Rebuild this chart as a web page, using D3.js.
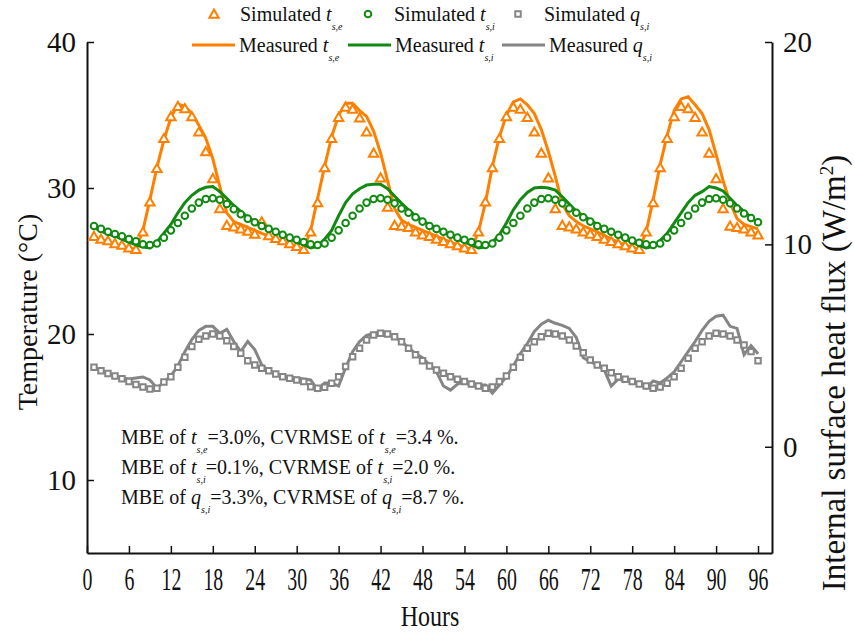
<!DOCTYPE html>
<html><head><meta charset="utf-8">
<script src="https://cdn.jsdelivr.net/npm/d3@7"></script>
<style>body{margin:0;background:#fff}svg{display:block}text{font-family:"Liberation Serif","Times New Roman",serif;fill:#111}</style>
</head><body><svg id="c" width="855" height="635"></svg>
<script>
const hours = d3.range(1, 97);
const xTicks = d3.range(0, 97, 6);
const yLeftTicks = [10, 20, 30, 40];
const yRightTicks = [0, 10, 20];

const simTe = [26.7,26.5,26.4,26.2,26.1,25.9,25.8,27.0,29.05,31.35,33.4,34.9,35.6,35.45,34.9,33.85,32.5,30.65,28.6,27.45,27.35,27.2,27.05,26.85,
27.7,26.75,26.55,26.4,26.2,26.0,25.8,27.0,29.0,31.4,33.4,34.85,35.55,35.4,34.8,33.85,32.4,30.7,28.7,27.45,27.4,27.3,27.0,26.8,
26.7,26.5,26.35,26.2,26.05,25.9,25.8,27.0,29.05,31.4,33.4,34.9,35.55,35.4,34.85,33.85,32.4,30.7,28.6,27.45,27.35,27.2,27.0,26.85,
26.7,26.5,26.35,26.2,26.05,25.9,25.8,27.0,29.0,31.4,33.4,34.9,35.6,35.45,34.85,33.85,32.4,30.65,28.6,27.4,27.3,27.2,27.0,26.8];
const meaTe = [26.6,26.45,26.3,26.15,26.0,25.9,25.8,27.1,29.2,31.4,33.3,34.8,35.75,35.6,35.1,34.3,33.4,32.0,30.1,28.3,27.7,27.5,27.3,27.1,
26.9,26.7,26.5,26.3,26.1,25.95,25.8,27.1,29.3,31.5,33.5,35.0,35.8,35.8,35.3,34.9,33.9,32.4,30.5,28.6,27.8,27.5,27.3,27.1,
26.9,26.7,26.5,26.3,26.1,25.95,25.8,27.0,29.0,31.5,33.5,35.0,35.9,36.1,35.7,35.1,34.0,32.5,30.8,28.9,28.1,27.7,27.4,27.2,
27.0,26.75,26.5,26.3,26.1,25.95,25.8,27.0,29.2,31.6,33.6,35.3,36.1,36.25,35.7,35.1,34.0,32.3,30.5,29.0,27.9,27.5,27.35,27.2];
const simTi = [27.4,27.2,27.0,26.85,26.7,26.5,26.35,26.15,26.1,26.2,26.6,27.1,27.6,28.1,28.6,29.0,29.25,29.3,29.2,28.9,28.55,28.2,27.9,27.65,
27.4,27.2,27.0,26.8,26.6,26.45,26.3,26.15,26.1,26.2,26.6,27.1,27.6,28.1,28.6,29.0,29.25,29.3,29.2,28.95,28.6,28.3,28.0,27.7,
27.4,27.2,27.0,26.8,26.6,26.45,26.3,26.15,26.1,26.2,26.6,27.1,27.6,28.1,28.6,29.0,29.25,29.3,29.2,28.95,28.6,28.3,28.0,27.7,
27.4,27.2,27.0,26.8,26.6,26.4,26.25,26.15,26.1,26.2,26.6,27.1,27.6,28.1,28.6,29.0,29.25,29.3,29.2,28.95,28.6,28.25,27.95,27.65];
const meaTi = [27.3,27.05,26.85,26.7,26.5,26.3,26.1,25.95,25.9,26.3,26.9,27.5,28.3,29.0,29.5,29.85,30.05,30.1,29.75,29.3,28.8,28.4,28.0,27.7,
27.45,27.2,27.0,26.8,26.55,26.3,26.1,25.9,26.0,26.5,27.1,28.1,29.0,29.6,29.95,30.2,30.25,30.25,29.95,29.45,28.95,28.5,28.1,27.75,
27.5,27.25,27.0,26.75,26.5,26.3,26.1,25.9,25.95,26.3,26.8,27.6,28.5,29.2,29.7,30.0,30.05,30.0,29.85,29.4,28.9,28.4,28.1,27.8,
27.5,27.2,27.0,26.75,26.5,26.3,26.05,25.9,26.0,26.4,26.9,27.6,28.3,29.0,29.5,29.75,30.1,30.0,29.8,29.3,28.8,28.4,28.0,27.6];
const simQ = [3.93,3.76,3.62,3.5,3.36,3.22,3.08,2.95,2.85,2.89,3.2,3.46,3.93,4.42,4.95,5.31,5.47,5.57,5.47,5.24,4.95,4.62,4.25,4.04,
3.88,3.76,3.6,3.46,3.38,3.3,3.22,2.97,2.89,2.94,3.14,3.46,3.96,4.45,4.87,5.28,5.52,5.61,5.57,5.44,5.19,4.87,4.55,4.25,
3.99,3.79,3.63,3.46,3.33,3.22,3.1,3.0,2.89,2.95,3.22,3.5,3.93,4.42,4.87,5.19,5.44,5.61,5.57,5.47,5.28,4.98,4.65,4.29,
4.04,3.88,3.66,3.46,3.33,3.22,3.1,3.0,2.89,2.95,3.14,3.46,3.88,4.37,4.87,5.19,5.47,5.61,5.57,5.47,5.28,5.03,4.7,4.25];
const meaQ = [3.9,3.75,3.6,3.5,3.4,3.35,3.4,3.45,3.3,2.9,3.2,3.5,4.0,4.7,5.3,5.75,5.95,5.95,5.6,5.8,5.2,4.7,5.2,4.8,
4.05,3.75,3.6,3.5,3.45,3.4,3.35,3.3,2.8,3.15,3.15,3.0,3.9,4.7,5.2,5.5,5.6,5.65,5.6,5.45,5.2,4.9,4.6,4.4,
4.05,3.7,3.0,2.8,3.1,3.2,3.0,3.05,3.05,2.65,3.05,3.45,4.0,4.6,5.1,5.7,6.05,6.25,6.1,6.0,5.85,5.4,4.4,4.2,
4.05,3.8,3.0,3.35,3.25,3.2,3.15,2.9,3.25,3.15,3.4,3.7,4.2,4.7,5.2,5.75,6.2,6.45,6.5,5.95,5.85,4.55,5.0,4.6];

const stats = [
  {sym:"t", sub:"s,e", mbe:"3.0%", cv:"3.4 %."},
  {sym:"t", sub:"s,i", mbe:"0.1%", cv:"2.0 %."},
  {sym:"q", sub:"s,i", mbe:"3.3%", cv:"8.7 %."}
];

const C = {orange:"#ff8000", green:"#128a12", gray:"#858585"};
const svg = d3.select("#c");
const L = 87, R = 772, T = 42, B = 553;
const x = d3.scaleLinear().domain([0, 98]).range([L, R]);
const yL = d3.scaleLinear().domain([5, 40]).range([B, T]);
const yR = d3.scaleLinear().domain([-5.25, 20]).range([B, T]);

function styleAxis(g, fs){
  g.select(".domain").attr("stroke","#111").attr("stroke-width",2);
  g.selectAll(".tick line").attr("stroke","#111").attr("stroke-width",1.5);
  g.selectAll(".tick text").style("font-family","'Liberation Serif',serif").style("font-size",fs+"px").attr("fill","#111");
}
const gx = svg.append("g").attr("transform",`translate(0,${B})`)
  .call(d3.axisBottom(x).tickValues(xTicks).tickSizeInner(-7).tickSizeOuter(0).tickPadding(0));
styleAxis(gx, 31);
gx.selectAll(".tick text").attr("y", null).attr("dy", null)
  .attr("transform","translate(0,37) scale(0.64,1)");
const gl = svg.append("g").attr("transform",`translate(${L},0)`)
  .call(d3.axisLeft(yL).tickValues(yLeftTicks).tickSizeInner(-7).tickSizeOuter(0).tickPadding(11));
styleAxis(gl, 29);
const gr = svg.append("g").attr("transform",`translate(${R},0)`)
  .call(d3.axisRight(yR).tickValues(yRightTicks).tickSizeInner(-7).tickSizeOuter(0).tickPadding(11));
styleAxis(gr, 29);

// axis titles
svg.append("text").attr("transform","translate(430,626) scale(0.8,1)").attr("text-anchor","middle").style("font-size","30px").text("Hours");
svg.append("text").attr("transform","translate(37,312) rotate(-90)").attr("text-anchor","middle").style("font-size","28px").text("Temperature (°C)");
const rt = svg.append("text").attr("transform","translate(845,373) rotate(-90)").attr("text-anchor","middle").style("font-size","33px");
rt.append("tspan").text("Internal surface heat flux (W/m");
rt.append("tspan").attr("dy",-12).style("font-size","19px").text("2");
rt.append("tspan").attr("dy",12).text(")");

// lines
const lineL = d3.line().x((d,i)=>x(hours[i])).y(d=>yL(d));
const lineR = d3.line().x((d,i)=>x(hours[i])).y(d=>yR(d));
svg.append("path").datum(meaTe).attr("d",lineL).attr("fill","none").attr("stroke",C.orange).attr("stroke-width",3);
svg.append("path").datum(meaQ).attr("d",lineR).attr("fill","none").attr("stroke",C.gray).attr("stroke-width",3);

// markers
const tri = d3.symbol().type(d3.symbolTriangle).size(38);
const sq = d3.symbol().type(d3.symbolSquare).size(30);
svg.append("g").selectAll("path").data(simTe).join("path")
  .attr("d",tri).attr("transform",(d,i)=>`translate(${x(hours[i])},${yL(d)+1})`)
  .attr("fill","#fff").attr("stroke",C.orange).attr("stroke-width",2);
svg.append("g").selectAll("path").data(simQ).join("path")
  .attr("d",sq).attr("transform",(d,i)=>`translate(${x(hours[i])},${yR(d)})`)
  .attr("fill","#fff").attr("stroke",C.gray).attr("stroke-width",2);
svg.append("path").datum(meaTi).attr("d",lineL).attr("fill","none").attr("stroke",C.green).attr("stroke-width",3);
svg.append("g").selectAll("circle").data(simTi).join("circle")
  .attr("cx",(d,i)=>x(hours[i])).attr("cy",d=>yL(d)).attr("r",3.3)
  .attr("fill","#fff").attr("stroke",C.green).attr("stroke-width",2);

// rich text helper
function rich(x0, y0, parts, fs){
  const t = svg.append("text").attr("x",x0).attr("y",y0).style("font-size",fs+"px");
  let shift = 0;
  parts.forEach(p=>{
    const s = t.append("tspan").text(p.t);
    if(p.it) s.style("font-style","italic");
    if(p.sub){ s.style("font-size",(fs*0.5)+"px").style("font-style","italic").attr("dy", fs*0.45); shift = fs*0.45; }
    else if(shift){ s.attr("dy", -shift); shift = 0; }
  });
  return t;
}

// legend
const lg = [
  {kind:"tri", x:214, lab:"Simulated ", sym:"t", sub:"s,e", c:C.orange},
  {kind:"cir", x:368, lab:"Simulated ", sym:"t", sub:"s,i", c:C.green},
  {kind:"sq", x:518, lab:"Simulated ", sym:"q", sub:"s,i", c:C.gray}
];
lg.forEach(d=>{
  if(d.kind==="tri") svg.append("path").attr("d",tri).attr("transform",`translate(${d.x},15)`).attr("fill","#fff").attr("stroke",d.c).attr("stroke-width",2);
  if(d.kind==="cir") svg.append("circle").attr("cx",d.x).attr("cy",14).attr("r",3.3).attr("fill","#fff").attr("stroke",d.c).attr("stroke-width",2);
  if(d.kind==="sq") svg.append("path").attr("d",sq).attr("transform",`translate(${d.x},14)`).attr("fill","#fff").attr("stroke",d.c).attr("stroke-width",2);
  rich(d.x+26, 21, [{t:d.lab},{t:d.sym,it:true},{t:d.sub,sub:true}], 20);
});
const lg2 = [
  {x0:192, x1:235, lab:"Measured ", sym:"t", sub:"s,e", c:C.orange},
  {x0:348, x1:391, lab:"Measured ", sym:"t", sub:"s,i", c:C.green},
  {x0:502, x1:545, lab:"Measured ", sym:"q", sub:"s,i", c:C.gray}
];
lg2.forEach(d=>{
  svg.append("line").attr("x1",d.x0).attr("x2",d.x1).attr("y1",45).attr("y2",45).attr("stroke",d.c).attr("stroke-width",3);
  rich(d.x1+4, 52, [{t:d.lab},{t:d.sym,it:true},{t:d.sub,sub:true}], 20);
});

// stats annotations
stats.forEach((s,i)=>{
  rich(121, 444 + i*30, [{t:"MBE of "},{t:s.sym,it:true},{t:s.sub,sub:true},{t:"="+s.mbe+", CVRMSE of "},{t:s.sym,it:true},{t:s.sub,sub:true},{t:"="+s.cv}], 20);
});
</script></body></html>
